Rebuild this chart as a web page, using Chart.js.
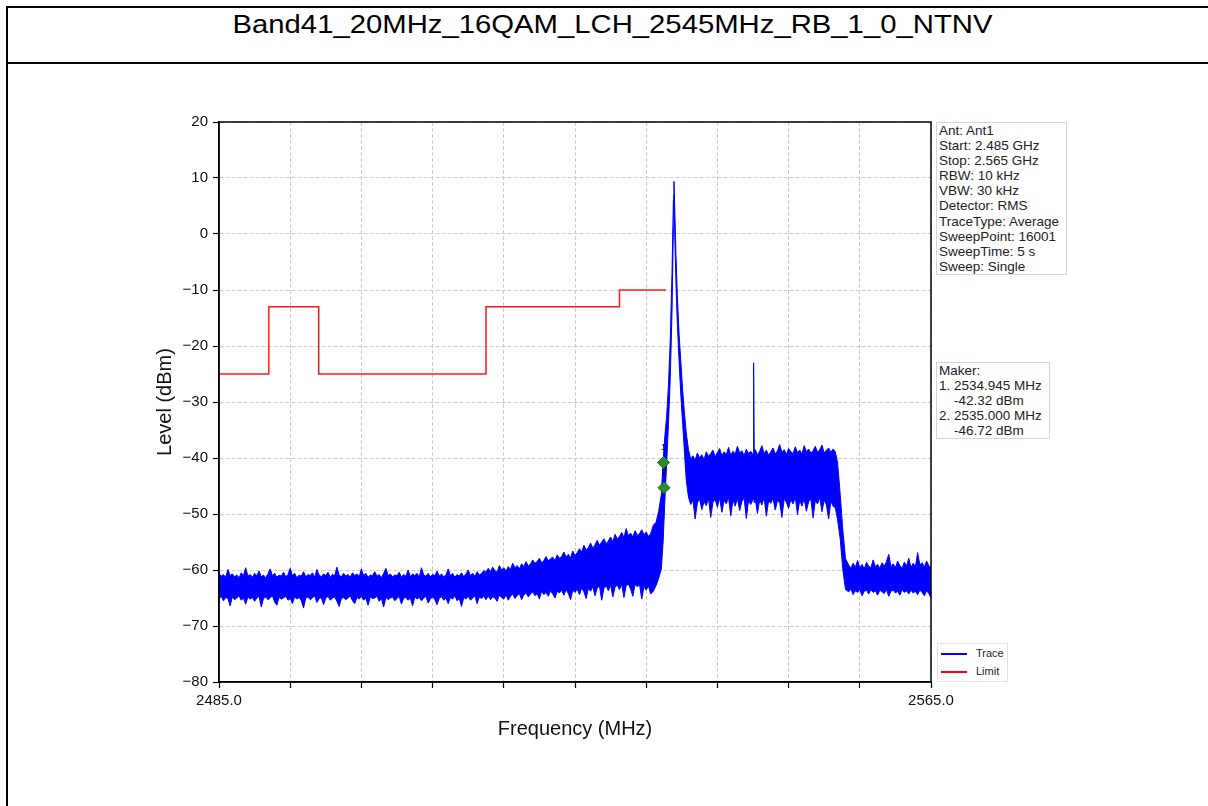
<!DOCTYPE html>
<html>
<head>
<meta charset="utf-8">
<title>Band41_20MHz_16QAM_LCH_2545MHz_RB_1_0_NTNV</title>
<script src="https://cdn.jsdelivr.net/npm/chart.js@4.4.1/dist/chart.umd.min.js"></script>
<style>
  html, body { margin: 0; padding: 0; background: #fff; }
  body {
    width: 1208px; height: 806px; position: relative; overflow: hidden;
    font-family: "Liberation Sans", Arial, sans-serif; color: #000;
  }
  .rule { position: absolute; background: #000; }
  #title {
    position: absolute; left: 7px; width: 1210px; top: 11px;
    font-size: 26px; line-height: 26px; text-align: center; white-space: nowrap;
  }
  #title span { display: inline-block; transform: scaleX(1.126); }
  #chartBox { position: absolute; left: 0; top: 70px; width: 1208px; height: 700px; }
  .box {
    position: absolute; border: 1px solid #d6d6d6; background: #fff;
    font-size: 13.5px; line-height: 15.1px; padding: 0 2px; white-space: pre; color: #222;
  }
  #legend {
    position: absolute; left: 937px; top: 643px; width: 69px; height: 37px;
    border: 1px solid #e2e2e2; background: #fff; font-size: 11px; color: #222;
  }
  #legend .item { height: 18px; line-height: 18px; white-space: nowrap; }
  #legend .swatch {
    display: inline-block; width: 26px; height: 2px; margin: 0 9px 0 3px; vertical-align: middle;
  }
</style>
</head>
<body>
<div class="rule" style="left:6px; top:6px; width:2px; height:800px;"></div>
<div class="rule" style="left:6px; top:6px; width:1202px; height:2px;"></div>
<div class="rule" style="left:6px; top:62px; width:1202px; height:2px;"></div>
<div id="title"><span>Band41_20MHz_16QAM_LCH_2545MHz_RB_1_0_NTNV</span></div>

<div id="chartBox"><canvas id="spectrum"></canvas></div>

<div class="box" style="left:936px; top:122px; width:125px;">Ant: Ant1
Start: 2.485 GHz
Stop: 2.565 GHz
RBW: 10 kHz
VBW: 30 kHz
Detector: RMS
TraceType: Average
SweepPoint: 16001
SweepTime: 5 s
Sweep: Single</div>

<div class="box" style="left:936px; top:362px; width:108px;">Maker:
1. 2534.945 MHz
    -42.32 dBm
2. 2535.000 MHz
    -46.72 dBm</div>

<div id="legend">
  <div class="item"><span class="swatch" style="background:#0000ff"></span>Trace</div>
  <div class="item"><span class="swatch" style="background:#ff0000"></span>Limit</div>
</div>

<script>
// Trace kept as upper / lower envelope (MHz, dBm)
const traceFreq = [
  // lower noise floor
  2485.00, 2485.25, 2485.50, 2485.75, 2486.00, 2486.25, 2486.50, 2486.75, 2487.00, 2487.25,
  2487.50, 2487.75, 2488.00, 2488.25, 2488.50, 2488.75, 2489.00, 2489.25, 2489.50, 2489.75,
  2490.00, 2490.25, 2490.50, 2490.75, 2491.00, 2491.25, 2491.50, 2491.75, 2492.00, 2492.25,
  2492.50, 2492.75, 2493.00, 2493.25, 2493.50, 2493.75, 2494.00, 2494.25, 2494.50, 2494.75,
  2495.00, 2495.25, 2495.50, 2495.75, 2496.00, 2496.25, 2496.50, 2496.75, 2497.00, 2497.25,
  2497.50, 2497.75, 2498.00, 2498.25, 2498.50, 2498.75, 2499.00, 2499.25, 2499.50, 2499.75,
  2500.00, 2500.25, 2500.50, 2500.75, 2501.00, 2501.25, 2501.50, 2501.75, 2502.00, 2502.25,
  2502.50, 2502.75, 2503.00, 2503.25, 2503.50, 2503.75, 2504.00, 2504.25, 2504.50, 2504.75,
  2505.00, 2505.25, 2505.50, 2505.75, 2506.00, 2506.25, 2506.50, 2506.75, 2507.00, 2507.25,
  2507.50, 2507.75, 2508.00, 2508.25, 2508.50, 2508.75, 2509.00, 2509.25, 2509.50, 2509.75,
  2510.00, 2510.25, 2510.50, 2510.75, 2511.00, 2511.25, 2511.50, 2511.75, 2512.00, 2512.25,
  2512.50, 2512.75, 2513.00, 2513.25, 2513.50, 2513.75, 2514.00, 2514.25, 2514.50, 2514.75,
  2515.00,
  // rising skirt
  2515.25, 2515.50, 2515.75, 2516.00, 2516.25, 2516.50, 2516.75, 2517.00, 2517.25, 2517.50,
  2517.75, 2518.00, 2518.25, 2518.50, 2518.75, 2519.00, 2519.25, 2519.50, 2519.75, 2520.00,
  2520.25, 2520.50, 2520.75, 2521.00, 2521.25, 2521.50, 2521.75, 2522.00, 2522.25, 2522.50,
  2522.75, 2523.00, 2523.25, 2523.50, 2523.75, 2524.00, 2524.25, 2524.50, 2524.75, 2525.00,
  2525.25, 2525.50, 2525.75, 2526.00, 2526.25, 2526.50, 2526.75, 2527.00, 2527.25, 2527.50,
  2527.75, 2528.00, 2528.25, 2528.50, 2528.75, 2529.00, 2529.25, 2529.50, 2529.75, 2530.00,
  2530.25, 2530.50, 2530.75, 2531.00, 2531.25, 2531.50, 2531.75, 2532.00, 2532.25, 2532.50,
  2532.75, 2533.00, 2533.25, 2533.50,
  // carrier
  2533.8, 2534.1, 2534.4, 2534.7, 2534.9, 2535.1, 2535.3, 2535.5, 2535.7, 2535.9,
  2536.05, 2536.12, 2536.2, 2536.35, 2536.5, 2536.7, 2536.9, 2537.1, 2537.3, 2537.5,
  // in-band
  2537.75, 2538.00, 2538.25, 2538.50, 2538.75, 2539.00, 2539.25, 2539.50, 2539.75, 2540.00,
  2540.25, 2540.50, 2540.75, 2541.00, 2541.25, 2541.50, 2541.75, 2542.00, 2542.25, 2542.50,
  2542.75, 2543.00, 2543.25, 2543.50, 2543.75, 2544.00, 2544.25, 2544.50, 2544.75, 2545.00,
  2545.07, 2545.14, 2545.25, 2545.50, 2545.75, 2546.00, 2546.25, 2546.50, 2546.75, 2547.00,
  2547.25, 2547.50, 2547.75, 2548.00, 2548.25, 2548.50, 2548.75, 2549.00, 2549.25, 2549.50,
  2549.75, 2550.00, 2550.25, 2550.50, 2550.75, 2551.00, 2551.25, 2551.50, 2551.75, 2552.00,
  2552.25, 2552.50, 2552.75, 2553.00, 2553.25, 2553.50, 2553.75, 2554.00, 2554.25,
  // band edge
  2554.5, 2554.8, 2555.1, 2555.4,
  // upper noise floor
  2555.75, 2556.00, 2556.25, 2556.50, 2556.75, 2557.00, 2557.25, 2557.50, 2557.75, 2558.00,
  2558.25, 2558.50, 2558.75, 2559.00, 2559.25, 2559.50, 2559.75, 2560.00, 2560.25, 2560.50,
  2560.75, 2561.00, 2561.25, 2561.50, 2561.75, 2562.00, 2562.25, 2562.50, 2562.75, 2563.00,
  2563.25, 2563.50, 2563.75, 2564.00, 2564.25, 2564.50, 2564.75, 2565.00
];

const traceHigh = [
  -60.6, -61.1, -60.8, -61.3, -59.9, -61.0, -60.7, -61.2, -60.9, -61.4,
  -60.5, -61.0, -59.6, -61.1, -60.8, -61.3, -60.6, -61.0, -60.2, -61.2,
  -60.9, -61.4, -60.7, -59.8, -61.0, -60.6, -61.3, -60.9, -61.1, -60.4,
  -61.2, -60.8, -59.7, -61.0, -60.6, -61.4, -60.9, -61.1, -60.3, -61.2,
  -60.8, -61.0, -60.5, -61.3, -59.9, -60.9, -61.2, -60.7, -61.0, -60.4,
  -61.3, -60.8, -61.0, -59.5, -60.9, -61.2, -60.6, -61.1, -60.8, -61.3,
  -60.5, -61.0, -60.7, -61.2, -59.8, -61.0, -60.6, -61.3, -60.9, -61.0,
  -60.3, -61.1, -60.8, -61.4, -60.6, -59.7, -61.0, -60.7, -61.2, -60.9,
  -61.0, -60.4, -61.3, -60.8, -61.1, -60.0, -61.2, -60.7, -61.0, -60.6,
  -61.3, -59.6, -60.9, -61.1, -60.6, -61.2, -60.8, -61.0, -60.2, -61.1,
  -60.7, -61.2, -60.9, -59.8, -61.0, -60.6, -61.3, -60.8, -61.1, -60.5,
  -61.2, -60.7, -60.0, -61.0, -60.6, -61.1, -60.3, -60.9, -60.6, -60.1,
  -60.4,
  -59.7, -60.3, -59.5, -60.1, -60.4, -59.2, -60.0, -59.6, -60.2, -59.4,
  -59.9, -58.8, -59.6, -59.2, -59.8, -58.9, -59.4, -58.5, -59.3, -58.9,
  -58.2, -58.8, -58.5, -57.9, -58.7, -58.3, -57.6, -58.4, -58.0, -57.7,
  -58.3, -57.3, -57.9, -57.6, -56.8, -57.7, -57.2, -57.8, -56.6, -57.4,
  -56.9, -56.2, -56.8, -55.6, -56.4, -56.0, -55.2, -56.1, -55.5, -54.7,
  -55.6, -55.0, -54.4, -55.3, -54.8, -54.1, -55.0, -53.6, -54.5, -54.0,
  -53.3, -54.2, -52.6, -53.9, -53.4, -54.1, -53.0, -53.8, -53.5, -52.8,
  -53.7, -53.2, -54.0, -53.5,
  -52.0, -51.5, -49.5, -46.5, -40.5, -36.0, -32.5, -27.0, -19.0, -7.0,
  6.0, 9.4, 5.0, -4.0, -11.0, -18.0, -23.0, -28.0, -32.0, -35.5,
  -38.5, -40.2, -39.6, -40.4, -39.1, -40.0, -39.4, -40.3, -38.9, -39.7,
  -39.2, -38.6, -39.8, -39.0, -38.3, -39.6, -38.9, -39.4, -38.1, -39.5,
  -38.8, -39.3, -37.9, -39.1, -38.7, -39.6, -38.4, -39.2, -38.8, -39.4,
  -23.0, -39.1, -38.5, -39.4, -38.8, -37.8, -39.2, -38.6, -39.5, -38.9,
  -38.2, -39.3, -38.7, -37.6, -39.0, -38.5, -39.4, -38.3, -38.9, -39.2,
  -38.0, -39.0, -38.6, -39.3, -37.8, -38.9, -38.4, -39.1, -38.7, -37.9,
  -39.0, -38.5, -37.7, -39.1, -38.6, -38.2, -39.0, -38.4, -38.9,
  -40.8, -46.5, -53.0, -58.0,
  -59.1, -59.7, -58.8, -59.5, -58.3, -59.6, -59.0, -59.8, -58.6, -59.3,
  -59.6, -58.2, -59.4, -59.0, -59.7, -58.7, -59.3, -58.5, -57.2, -59.4,
  -58.9, -59.6, -58.4, -59.2, -59.7, -58.6, -59.3, -57.9, -59.5, -58.8,
  -59.4, -56.9, -59.1, -58.7, -59.5, -58.4, -59.2, -59.6
];

const traceLow = [
  -65.2, -64.7, -65.5, -64.9, -65.1, -66.4, -64.8, -65.3, -65.0, -64.6,
  -65.4, -65.0, -66.1, -64.8, -65.2, -64.9, -65.6, -65.0, -64.7, -66.6,
  -65.1, -64.8, -65.3, -65.0, -64.6, -65.7, -66.3, -64.9, -65.2, -65.0,
  -64.7, -65.4, -65.1, -66.0, -64.8, -65.2, -64.9, -65.5, -66.8, -65.0,
  -64.8, -65.3, -65.0, -64.6, -65.8, -65.1, -64.9, -66.2, -65.0, -64.7,
  -65.4, -65.0, -64.8, -65.6, -66.5, -65.1, -64.9, -65.3, -65.0, -64.6,
  -65.5, -66.0, -64.9, -65.2, -64.7, -65.4, -65.0, -66.3, -64.8, -65.1,
  -65.0, -64.7, -65.6, -65.1, -66.6, -64.9, -65.3, -65.0, -64.8, -65.5,
  -65.1, -64.7, -66.1, -65.0, -64.9, -65.4, -65.0, -66.4, -64.8, -65.2,
  -64.9, -65.5, -65.0, -64.7, -65.9, -65.2, -64.8, -65.3, -66.2, -65.0,
  -64.8, -65.4, -65.0, -66.0, -64.9, -65.2, -64.6, -65.5, -65.1, -66.5,
  -64.9, -65.2, -64.7, -65.4, -65.0, -64.6, -66.0, -64.8, -65.1, -64.7,
  -65.3,
  -64.6, -65.3, -64.8, -65.0, -65.6, -64.5, -64.9, -65.2, -64.4, -65.4,
  -64.7, -64.3, -65.1, -64.6, -64.2, -65.3, -64.5, -64.1, -64.8, -64.3,
  -63.9, -64.6, -64.2, -65.2, -63.8, -64.4, -64.0, -64.7, -63.7, -64.3,
  -65.0, -63.8, -64.1, -63.6, -64.5, -63.5, -64.2, -65.3, -63.6, -64.0,
  -63.4, -64.4, -63.2, -63.9, -65.1, -63.3, -63.8, -63.0, -64.6, -63.2,
  -62.9, -65.4, -63.3, -62.8, -63.7, -62.7, -64.8, -63.1, -62.7, -63.5,
  -62.6, -64.9, -62.8, -62.5, -63.4, -64.7, -62.6, -63.0, -62.6, -65.2,
  -62.9, -63.6, -62.8, -64.3,
  -63.8, -62.8, -61.5, -59.8, -55.0, -47.5, -41.0, -34.0, -26.0, -14.0,
  1.0, 7.0, 0.5, -9.0, -16.0, -23.0, -29.0, -34.0, -39.0, -44.0,
  -47.0, -48.3, -47.5, -50.9, -48.0, -47.3, -49.2, -47.8, -48.5, -47.2,
  -50.6, -47.9, -47.4, -48.8, -47.1, -49.7, -47.6, -48.2, -47.0, -50.3,
  -47.5, -48.6, -47.2, -49.4, -47.8, -47.1, -50.8, -47.6, -48.3, -47.4,
  -46.8, -48.0, -47.3, -49.9, -47.5, -48.4, -47.0, -50.4, -47.7, -48.1,
  -47.2, -49.3, -47.6, -48.0, -50.6, -47.3, -47.9, -49.0, -47.4, -48.2,
  -47.0, -50.1, -47.5, -48.6, -47.2, -49.5, -47.8, -47.3, -50.7, -47.6,
  -48.2, -47.1, -49.6, -47.5, -48.4, -50.9, -47.7, -48.6, -48.9,
  -51.0, -54.5, -60.0, -63.5,
  -63.9, -63.4, -64.4, -63.7, -64.0, -63.5, -64.6, -63.8, -63.6, -64.3,
  -63.5, -64.0, -63.7, -64.5, -63.6, -63.9, -64.2, -63.5, -64.7, -63.8,
  -63.6, -64.1, -63.8, -64.5, -63.5, -64.0, -63.7, -64.3, -63.6, -64.1,
  -63.8, -64.4, -63.6, -64.0, -64.6, -63.7, -64.2, -65.0
];

// spectrum emission limit (step line)
const limitFreq = [2485, 2490.6, 2496.2, 2515, 2530, 2535.2];
const limitLevel = [-25, -13, -25, -13, -10, -10];

// markers
const markerFreq = [2534.945, 2535.0];
const markerLevel = [-40.8, -45.3];
const markerNames = ["1", "2"];

// axes
const freqRange = [2485, 2565];
const freqStep = 8;
const levelRange = [-80, 20];
const levelStep = 10;

(function () {
  const $ = (id) => document.getElementById(id);
  const FONT = "'Liberation Sans', Arial, sans-serif";

  function toPoints(xs, ys) {
    return xs.map((x, i) => ({ x: x, y: ys[i] }));
  }

  function withMinus(v) {
    return v < 0 ? "\u2212" + Math.abs(v) : String(v);
  }

  // closes the box around the plot area (top and right sides)
  const framePlugin = {
    id: "frame",
    afterDraw(chart) {
      const { ctx, chartArea: a } = chart;
      ctx.save();
      ctx.strokeStyle = "#000";
      ctx.lineWidth = 1.5;
      ctx.strokeRect(a.left, a.top, a.right - a.left, a.bottom - a.top);
      ctx.restore();
    },
  };

  const markerLabelPlugin = {
    id: "markerLabels",
    afterDatasetsDraw(chart) {
      const meta = chart.getDatasetMeta(0);
      const ctx = chart.ctx;
      ctx.save();
      ctx.fillStyle = "#000";
      ctx.font = "9px " + FONT;
      ctx.textAlign = "center";
      ctx.textBaseline = "middle";
      meta.data.forEach((pt, i) => ctx.fillText(markerNames[i], pt.x, pt.y - 15));
      ctx.restore();
    },
  };

  function makeSpectrum(canvasId) {
    const el = $(canvasId);
    if (!el || typeof Chart === "undefined") return null;

    return new Chart(el, {
      type: "line",
      data: {
        datasets: [
          {
            label: "Markers",
            data: toPoints(markerFreq, markerLevel),
            showLine: false,
            pointStyle: "rectRot",
            pointRadius: 6,
            backgroundColor: "#2a8c2a",
            borderColor: "#1d6b1d",
            borderWidth: 1,
          },
          {
            label: "Trace",
            data: toPoints(traceFreq, traceHigh),
            borderColor: "#0000ff",
            backgroundColor: "#0000ff",
            borderWidth: 1,
            pointRadius: 0,
            fill: 2,
          },
          {
            label: "TraceLow",
            data: toPoints(traceFreq, traceLow),
            borderColor: "#0000ff",
            borderWidth: 1,
            pointRadius: 0,
            fill: false,
          },
          {
            label: "Limit",
            data: toPoints(limitFreq, limitLevel),
            borderColor: "#ff1a1a",
            borderWidth: 1.5,
            pointRadius: 0,
            stepped: "before",
            fill: false,
          },
        ],
      },
      options: {
        responsive: true,
        maintainAspectRatio: false,
        animation: false,
        layout: { padding: { left: 149, right: 277, top: 52, bottom: 25 } },
        plugins: {
          legend: { display: false },
          tooltip: { enabled: false },
        },
        scales: {
          x: {
            type: "linear",
            min: freqRange[0],
            max: freqRange[1],
            afterFit: (s) => { s.height = 63; },
            border: { color: "#000", width: 1.5, dash: [4, 2] },
            grid: { color: "#cdcdcd", tickColor: "#000", tickLength: 6, tickWidth: 1.2 },
            ticks: {
              stepSize: freqStep,
              autoSkip: false,
              maxRotation: 0,
              padding: 4,
              color: "#111",
              font: { family: FONT, size: 15 },
              callback: (v, i, ticks) =>
                i === 0 || i === ticks.length - 1 ? Number(v).toFixed(1) : "",
            },
            title: {
              display: true,
              text: "Frequency (MHz)",
              color: "#111",
              font: { family: FONT, size: 20 },
              padding: { top: 4, bottom: 4 },
            },
          },
          y: {
            min: levelRange[0],
            max: levelRange[1],
            afterFit: (s) => { s.width = 70; },
            border: { color: "#000", width: 1.5, dash: [4, 2] },
            grid: { color: "#cdcdcd", tickColor: "#000", tickLength: 6, tickWidth: 1.2 },
            ticks: {
              stepSize: levelStep,
              padding: 5,
              color: "#111",
              font: { family: FONT, size: 15 },
              callback: (v) => withMinus(v),
            },
            title: {
              display: true,
              text: "Level (dBm)",
              color: "#111",
              font: { family: FONT, size: 20 },
              padding: { top: 4, bottom: 4 },
            },
          },
        },
      },
      plugins: [framePlugin, markerLabelPlugin],
    });
  }

  document.addEventListener("DOMContentLoaded", function () {
    makeSpectrum("spectrum");
  });
})();
</script>
</body>
</html>
